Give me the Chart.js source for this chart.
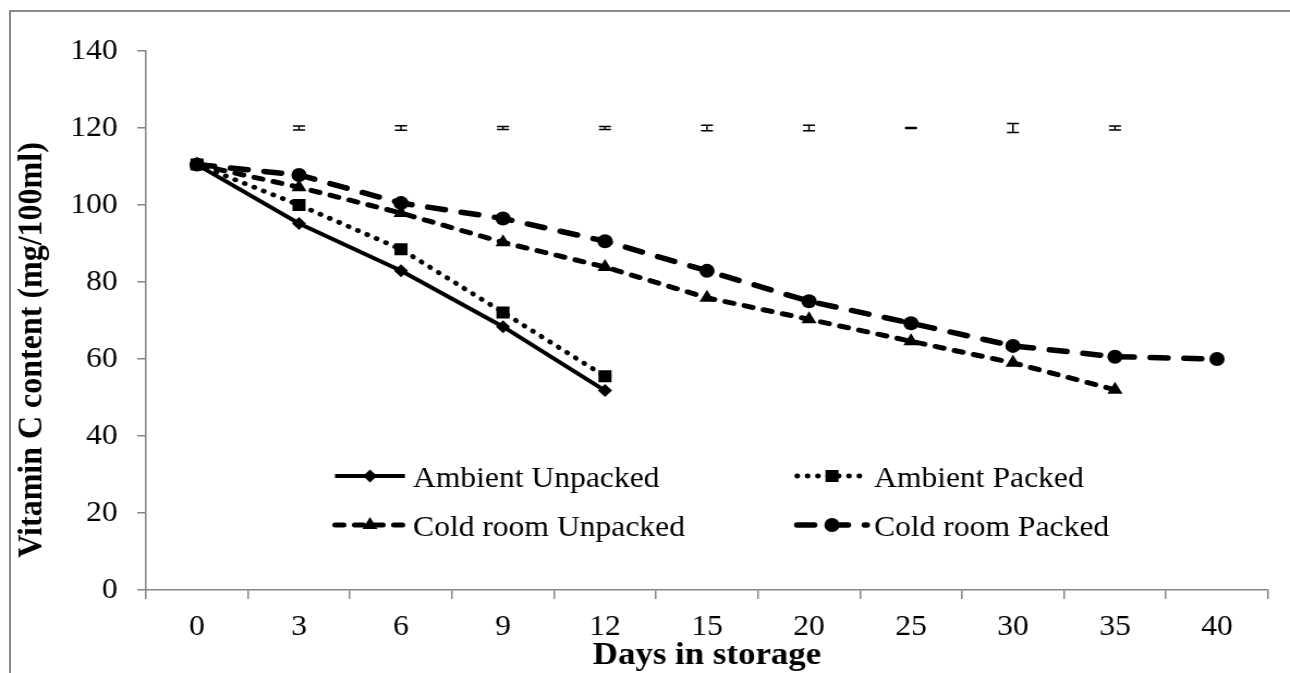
<!DOCTYPE html>
<html>
<head>
<meta charset="utf-8">
<script src="https://cdn.jsdelivr.net/npm/chart.js@4.4.1/dist/chart.umd.min.js"></script>
<style>
  html, body { margin: 0; padding: 0; background: #fff; overflow: hidden; }
  #frame { position: absolute; left: 9px; top: 10px; width: 2000px; height: 2000px;
           border-left: 2px solid #8a8a8a; border-top: 2px solid #8a8a8a; }
  /* the original figure is a little stretched sideways */
  #wrap { position: absolute; left: 0; top: 0; width: 1184px; height: 673px;
          transform: scaleX(1.0895); transform-origin: 0 0; }
</style>
</head>
<body>
<div id="frame"></div>
<div id="wrap"><canvas id="chart"></canvas></div>
<script>
const days = ['0', '3', '6', '9', '12', '15', '20', '25', '30', '35', '40'];
const yTicks = [0, 20, 40, 60, 80, 100, 120, 140];

const ambientUnpacked = [110.5, 95.2, 82.9, 68.4, 51.8];
const ambientPacked   = [110.5, 100.0, 88.5, 72.1, 55.5];
const coldUnpacked    = [110.5, 104.6, 97.9, 90.3, 83.9, 75.9, 70.3, 64.6, 59.0, 52.0];
const coldPacked      = [110.5, 107.8, 100.5, 96.5, 90.6, 82.9, 75.0, 69.3, 63.4, 60.6, 60.0];

// error bars drawn along the 120 line
const errMean = [null, 120, 120, 120, 120, 120, 120, 120, 120, 120, null];
const errHalf = [null, 0.5, 0.6, 0.4, 0.4, 0.7, 0.7, 0.15, 1.2, 0.5, null];

const S = 1290 / 1184;          // horizontal stretch of the wrapper
const px = v => v / S;          // page x -> canvas x
const SERIF = "'Liberation Serif', 'Times New Roman', serif";
const GREY = '#868686';

function drawMarker(ctx, style, r, x, y) {
    ctx.beginPath();
    if (style === 'circle') {
        ctx.arc(x, y, r, 0, Math.PI * 2);
    } else if (style === 'rect') {
        const s = r * Math.SQRT1_2;
        ctx.rect(x - s, y - s, 2 * s, 2 * s);
    } else if (style === 'rectRot') {
        ctx.moveTo(x, y - r); ctx.lineTo(x + r, y); ctx.lineTo(x, y + r); ctx.lineTo(x - r, y);
        ctx.closePath();
    } else if (style === 'triangle') {
        const h = r * 1.5, w = r * Math.sqrt(3);
        ctx.moveTo(x, y - r); ctx.lineTo(x + w / 2, y - r + h); ctx.lineTo(x - w / 2, y - r + h);
        ctx.closePath();
    }
    ctx.fill();
}

const extras = {
    id: 'extras',
    afterDatasetsDraw(chart) {
        const { ctx, scales: { x, y } } = chart;
        ctx.save();
        ctx.strokeStyle = '#000';
        ctx.lineWidth = 1.5;
        errMean.forEach((m, i) => {
            if (m == null) return;
            const cx = x.getPixelForValue(i);
            const top = y.getPixelForValue(m + errHalf[i]);
            const bot = y.getPixelForValue(m - errHalf[i]);
            ctx.beginPath();
            ctx.moveTo(cx, top); ctx.lineTo(cx, bot);
            ctx.moveTo(cx - px(6), top); ctx.lineTo(cx + px(6), top);
            ctx.moveTo(cx - px(6), bot); ctx.lineTo(cx + px(6), bot);
            ctx.stroke();
        });
        ctx.restore();
    },
    afterDraw(chart) {
        const { ctx } = chart;
        ctx.save();
        ctx.fillStyle = '#000';

        // axis titles
        ctx.font = `bold 32px ${SERIF}`;
        ctx.textAlign = 'center';
        ctx.textBaseline = 'alphabetic';
        ctx.fillText('Days in storage', px(707), 664);
        ctx.save();
        ctx.translate(px(32), 350);
        ctx.rotate(-Math.PI / 2);
        ctx.textBaseline = 'middle';
        ctx.fillText('Vitamin C content (mg/100ml)', 0, 0);
        ctx.restore();

        // legend inside the plot, two columns
        const cols = [335, 797], textX = [413, 874], rows = [476, 525];
        ctx.font = `29px ${SERIF}`;
        ctx.textAlign = 'left';
        chart.data.datasets.forEach((ds, i) => {
            const c = i % 2, r = Math.floor(i / 2);
            const x0 = px(cols[c]), x1 = px(cols[c] + 70), yy = rows[r];
            ctx.save();
            ctx.strokeStyle = '#000';
            ctx.lineWidth = ds.borderWidth;
            ctx.lineCap = ds.borderCapStyle;
            ctx.setLineDash(ds.borderDash);
            ctx.beginPath();
            ctx.moveTo(x0, yy); ctx.lineTo(x1, yy);
            ctx.stroke();
            ctx.restore();
            drawMarker(ctx, ds.pointStyle, ds.pointRadius, (x0 + x1) / 2, yy);
            ctx.fillText(ds.label, px(textX[c]), yy + 10.5);
        });
        ctx.restore();
    }
};

function series(label, data, style, radius, dash, width) {
    return {
        label, data,
        borderColor: '#000', backgroundColor: '#000',
        borderWidth: width, borderDash: dash, borderCapStyle: dash.length ? 'round' : 'butt',
        pointStyle: style, pointRadius: radius, pointHoverRadius: radius,
        pointBorderWidth: 0, pointBackgroundColor: '#000',
        tension: 0, fill: false
    };
}

new Chart(document.getElementById('chart'), {
    type: 'line',
    data: {
        labels: days,
        datasets: [
            series('Ambient Unpacked', ambientUnpacked, 'rectRot', 6.5, [], 4),
            series('Ambient Packed', ambientPacked, 'rect', 8.5, [0.5, 9], 4.8),
            series('Cold room Unpacked', coldUnpacked, 'triangle', 8, [8, 10], 5),
            series('Cold room Packed', coldPacked, 'circle', 7, [16, 15], 5.5)
        ]
    },
    options: {
        responsive: true,
        maintainAspectRatio: false,
        animation: false,
        layout: { padding: { left: 0, top: 51, right: 1184 - px(1268), bottom: 0 } },
        plugins: { legend: { display: false }, tooltip: { enabled: false }, title: { display: false } },
        scales: {
            x: {
                type: 'category',
                offset: true,
                afterFit: s => { s.height = 673 - 590; },
                grid: { offset: true, drawOnChartArea: false, tickLength: 9, color: GREY, lineWidth: 1.5 },
                border: { color: GREY, width: 1.5 },
                ticks: { color: '#000', font: { family: SERIF, size: 29 }, padding: 11, maxRotation: 0, autoSkip: false }
            },
            y: {
                min: 0, max: 140,
                afterFit: s => { s.width = px(146); },
                afterBuildTicks: s => { s.ticks = yTicks.map(v => ({ value: v })); },
                grid: { drawOnChartArea: false, tickLength: 8, color: GREY, lineWidth: 1.5 },
                border: { color: GREY, width: 1.5 },
                ticks: { color: '#000', font: { family: SERIF, size: 29 }, padding: 18 }
            }
        }
    },
    plugins: [extras]
});
</script>
</body>
</html>
